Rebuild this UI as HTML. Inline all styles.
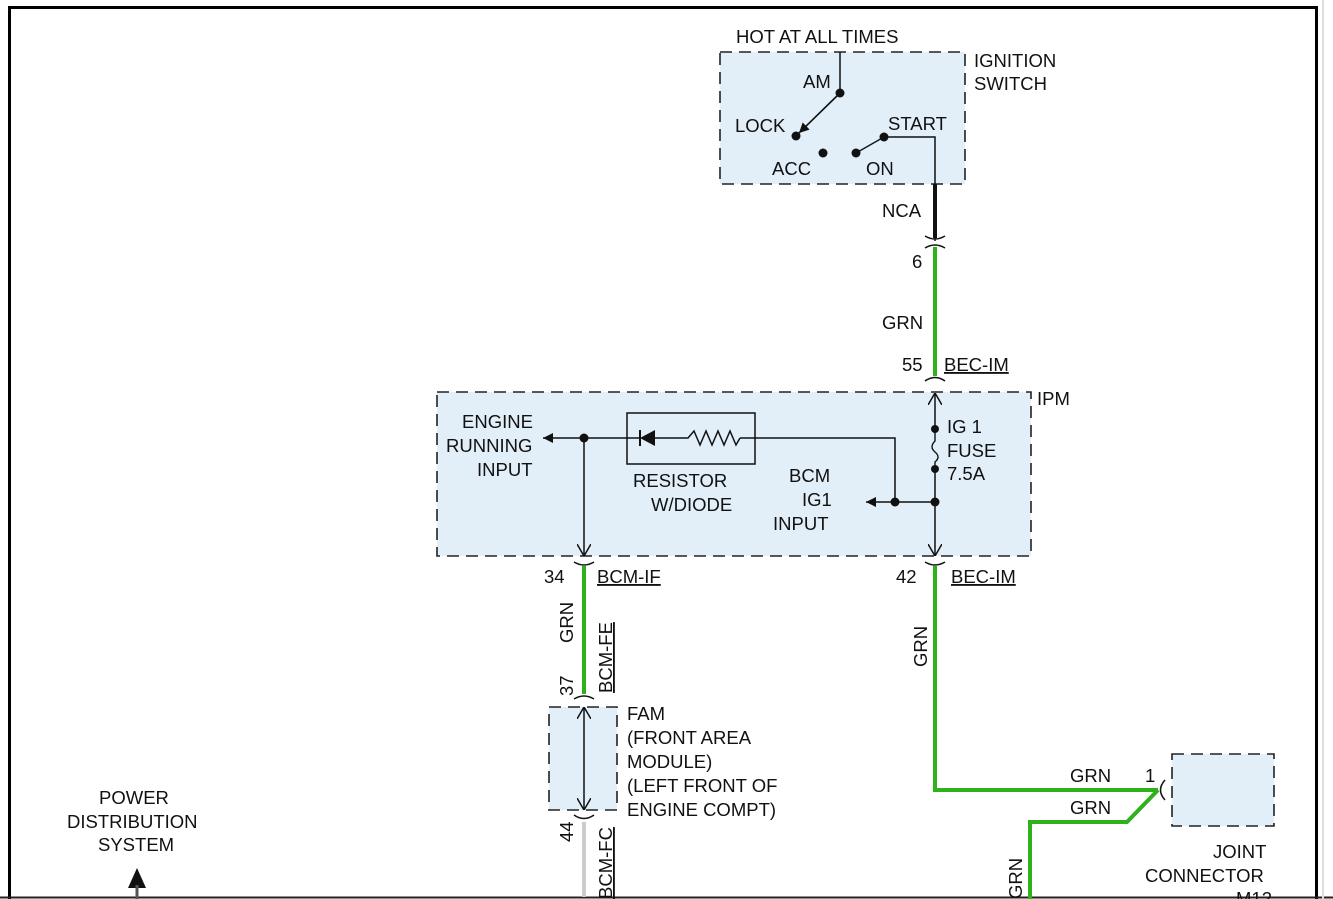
<!DOCTYPE html>
<html><head><meta charset="utf-8"><style>
html,body{margin:0;padding:0;background:#fff;}
svg{display:block;}
text{font-family:"Liberation Sans",sans-serif;font-size:18.5px;fill:#111;}
</style></head><body>
<svg width="1333" height="899" viewBox="0 0 1333 899" xmlns="http://www.w3.org/2000/svg">
<defs>
<marker id="ah" viewBox="0 0 10 10" refX="10" refY="5" markerWidth="10" markerHeight="10" markerUnits="userSpaceOnUse" orient="auto"><path d="M0,0 L10,5 L0,10 z" fill="#111"/></marker>
<marker id="ao" viewBox="0 0 12 14" refX="12" refY="7" markerWidth="12" markerHeight="14" markerUnits="userSpaceOnUse" orient="auto"><path d="M0,0 L12,7 L0,14" fill="none" stroke="#111" stroke-width="1.5"/></marker>
</defs>
<rect x="0" y="0" width="1333" height="899" fill="#fff"/>
<path d="M9.5,899 V7.5 H1316.5 V899" fill="none" stroke="#000" stroke-width="3"/>
<line x1="0" y1="897.5" x2="1333" y2="897.5" stroke="#222" stroke-width="2"/>
<line x1="1323" y1="0" x2="1323" y2="899" stroke="#ddd" stroke-width="2"/>

<rect x="720" y="52" width="245" height="132" fill="#e2eff8" stroke="#222" stroke-width="1.6" stroke-dasharray="12,7"/>
<text x="736" y="43">HOT AT ALL TIMES</text>
<text x="974" y="67">IGNITION</text>
<text x="974" y="90">SWITCH</text>
<text x="803" y="88">AM</text>
<text x="735" y="132">LOCK</text>
<text x="888" y="130">START</text>
<text x="772" y="175">ACC</text>
<text x="866" y="175">ON</text>
<line x1="840" y1="52" x2="840" y2="93" stroke="#111" stroke-width="1.5"/>
<line x1="840" y1="93" x2="799" y2="133" stroke="#111" stroke-width="1.6" marker-end="url(#ah)"/>
<circle cx="840" cy="93" r="4.5" fill="#111"/>
<circle cx="796" cy="136" r="4.5" fill="#111"/>
<circle cx="823" cy="153" r="4.5" fill="#111"/>
<circle cx="856" cy="153" r="4.5" fill="#111"/>
<circle cx="884" cy="137" r="4.5" fill="#111"/>
<line x1="856" y1="153" x2="884" y2="137" stroke="#111" stroke-width="1.3"/>
<path d="M884,137 H935 V184" fill="none" stroke="#111" stroke-width="1.5"/>
<line x1="935" y1="184" x2="935" y2="238" stroke="#111" stroke-width="4"/>
<text x="882" y="217">NCA</text>
<path d="M925,236 Q935,242 945,236 M935,236 V241 M925,248 Q935,242 945,248" fill="none" stroke="#111" stroke-width="1.5"/>
<line x1="935" y1="247" x2="935" y2="376" stroke="#2db21c" stroke-width="4"/>
<text x="912" y="268">6</text>
<text x="882" y="329">GRN</text>
<text x="902" y="371">55</text>
<text x="944" y="371" text-decoration="underline">BEC-IM</text>
<path d="M925,381 Q935,374 945,381" fill="none" stroke="#111" stroke-width="1.5"/>

<rect x="437" y="392" width="594" height="164" fill="#e2eff8" stroke="#222" stroke-width="1.6" stroke-dasharray="12,7"/>
<text x="1037" y="405">IPM</text>
<line x1="935" y1="429" x2="935" y2="393" stroke="#111" stroke-width="1.5" marker-end="url(#ao)"/>
<circle cx="935" cy="429" r="4" fill="#111"/>
<circle cx="935" cy="469" r="4" fill="#111"/>
<path d="M935,429 V441 Q929,447 935,452 Q941,457 935,462 V469" fill="none" stroke="#111" stroke-width="1.4"/>
<text x="947" y="433">IG 1</text>
<text x="947" y="457">FUSE</text>
<text x="947" y="480">7.5A</text>
<line x1="935" y1="469" x2="935" y2="556" stroke="#111" stroke-width="1.5" marker-end="url(#ao)"/>
<circle cx="935" cy="502" r="4.5" fill="#111"/>
<circle cx="895" cy="502" r="4.5" fill="#111"/>
<line x1="935" y1="502" x2="866" y2="502" stroke="#111" stroke-width="1.5" marker-end="url(#ah)"/>
<path d="M895,502 V438 H740" fill="none" stroke="#111" stroke-width="1.5"/>
<text x="789" y="482">BCM</text>
<text x="802" y="506">IG1</text>
<text x="773" y="530">INPUT</text>
<rect x="627" y="413" width="128" height="51" fill="none" stroke="#111" stroke-width="1.5"/>
<path d="M740,438 L736,445 L730,431 L724,445 L718,431 L712,445 L706,431 L700,445 L694,431 L688,438 H655" fill="none" stroke="#111" stroke-width="1.5"/>
<path d="M655,430 L640,438 L655,446 z" fill="#111"/>
<line x1="640" y1="430" x2="640" y2="446" stroke="#111" stroke-width="2"/>
<line x1="640" y1="438" x2="543" y2="438" stroke="#111" stroke-width="1.5" marker-end="url(#ah)"/>
<circle cx="584" cy="438" r="4.5" fill="#111"/>
<line x1="584" y1="438" x2="584" y2="556" stroke="#111" stroke-width="1.5" marker-end="url(#ao)"/>
<text x="462" y="428">ENGINE</text>
<text x="446" y="452">RUNNING</text>
<text x="477" y="476">INPUT</text>
<text x="633" y="487">RESISTOR</text>
<text x="651" y="511">W/DIODE</text>

<path d="M574,562 Q584,568 594,562 M925,562 Q935,568 945,562" fill="none" stroke="#111" stroke-width="1.5"/>
<text x="544" y="583">34</text>
<text x="597" y="583" text-decoration="underline">BCM-IF</text>
<text x="896" y="583">42</text>
<text x="951" y="583" text-decoration="underline">BEC-IM</text>
<line x1="584" y1="566" x2="584" y2="694" stroke="#2db21c" stroke-width="4"/>
<text transform="translate(573,643) rotate(-90)">GRN</text>
<text transform="translate(612,693) rotate(-90)" text-decoration="underline">BCM-FE</text>
<text transform="translate(573,696) rotate(-90)">37</text>
<path d="M574,699 Q584,693 594,699" fill="none" stroke="#111" stroke-width="1.5"/>

<rect x="549" y="707" width="68" height="103" fill="#e2eff8" stroke="#222" stroke-width="1.6" stroke-dasharray="12,7"/>
<line x1="584" y1="745" x2="584" y2="707" stroke="#111" stroke-width="1.5" marker-end="url(#ao)"/>
<line x1="584" y1="745" x2="584" y2="810" stroke="#111" stroke-width="1.5" marker-end="url(#ao)"/>
<text x="627" y="720">FAM</text>
<text x="627" y="744">(FRONT AREA</text>
<text x="627" y="768">MODULE)</text>
<text x="627" y="792">(LEFT FRONT OF</text>
<text x="627" y="816">ENGINE COMPT)</text>
<path d="M574,815 Q584,822 594,815" fill="none" stroke="#111" stroke-width="1.5"/>
<text transform="translate(573,842) rotate(-90)">44</text>
<line x1="584" y1="822" x2="584" y2="897" stroke="#ccc" stroke-width="4"/>
<text transform="translate(612,899) rotate(-90)" text-decoration="underline">BCM-FC</text>

<path d="M935,566 V790 H1158" fill="none" stroke="#2db21c" stroke-width="4"/>
<path d="M1158,790 L1127,822 H1030 V899" fill="none" stroke="#2db21c" stroke-width="4"/>
<text transform="translate(927,667) rotate(-90)">GRN</text>
<text x="1070" y="782">GRN</text>
<text x="1070" y="814">GRN</text>
<text x="1145" y="782">1</text>
<path d="M1165,780 Q1156,790 1165,800" fill="none" stroke="#111" stroke-width="1.5"/>
<text transform="translate(1022,899) rotate(-90)">GRN</text>
<rect x="1172" y="754" width="102" height="72" fill="#e2eff8" stroke="#222" stroke-width="1.6" stroke-dasharray="12,7"/>
<text x="1213" y="858">JOINT</text>
<text x="1145" y="882">CONNECTOR</text>
<text x="1236" y="905">M12</text>

<text x="99" y="804">POWER</text>
<text x="67" y="828">DISTRIBUTION</text>
<text x="98" y="851">SYSTEM</text>
<path d="M128,888 L137,868 L146,888 z" fill="#111"/>
<line x1="137" y1="885" x2="137" y2="899" stroke="#555" stroke-width="3"/>
</svg>
</body></html>
